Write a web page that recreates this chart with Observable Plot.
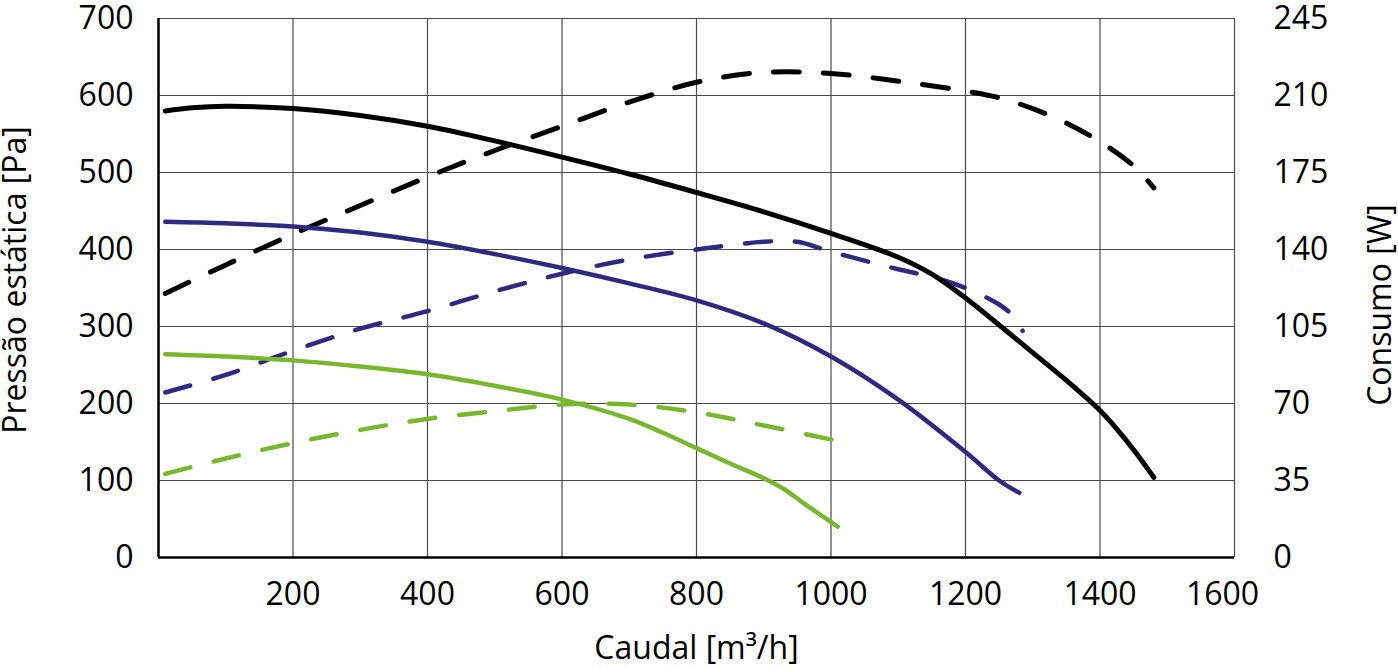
<!DOCTYPE html>
<html><head><meta charset="utf-8">
<script src="https://cdn.jsdelivr.net/npm/d3@7"></script>
<script src="https://cdn.jsdelivr.net/npm/@observablehq/plot@0.6"></script>
<style>body{margin:0;background:#fff}</style>
</head><body><div id="chart"></div>
<script>
// Tick labels
const flowTicks = [200, 400, 600, 800, 1000, 1200, 1400, 1600];
const pressTicks = [0, 100, 200, 300, 400, 500, 600, 700];
const consumoTicks = [0, 35, 70, 105, 140, 175, 210, 245];

// Black curve — static pressure [Pa]
const blackPQ = [10, 50, 100, 200, 300, 400, 500, 600, 700, 800, 900, 1000, 1100, 1150, 1200, 1250, 1300, 1350, 1400, 1420, 1450, 1480];
const blackP  = [580, 584, 586, 583, 574, 560, 541, 520, 498, 474, 449, 421, 390, 368, 337, 302, 266, 230, 191, 172, 140, 104];
// Black curve — consumption [W]
const blackWQ = [10, 100, 200, 300, 400, 500, 600, 700, 800, 900, 1000, 1100, 1200, 1250, 1300, 1350, 1400, 1450, 1480];
const blackW  = [120, 133, 147, 160, 173, 185, 196, 207, 216, 220.5, 220, 216.5, 212, 209, 204, 197.5, 189, 178, 168];

// Blue curve
const bluePQ = [10, 100, 200, 300, 400, 500, 600, 700, 800, 900, 1000, 1100, 1200, 1250, 1280];
const blueP  = [436, 434, 430, 422, 410, 394, 376, 356, 334, 304, 261, 205, 137, 100, 84];
const blueWQ = [10, 100, 200, 300, 400, 500, 600, 700, 800, 900, 950, 1000, 1100, 1150, 1200, 1250, 1270, 1285];
const blueW  = [75, 83, 94, 104, 112, 121, 129, 135.5, 140, 143.5, 143.5, 139, 131, 127.5, 122.5, 115, 110, 103];

// Green curve
const greenPQ = [10, 100, 200, 300, 400, 500, 600, 700, 750, 800, 850, 900, 930, 960, 1010];
const greenP  = [264, 261, 256, 248, 238, 223, 205, 180, 162, 142, 122, 103, 89, 70, 40];
const greenWQ = [10, 100, 200, 300, 400, 500, 600, 700, 800, 900, 1010];
const greenW  = [38, 45, 52, 58, 63, 66.5, 69.5, 69.5, 66, 60, 53];

const pressMax = 700, consumoMax = 245;
const toTable = (qs, vs) => qs.map((q, i) => ({q, v: vs[i]}));

const BLACK = "#000000", BLUE = "#31297f", GREEN = "#78b82e";
const dash = "26,24";
const FS = 32;

const solid = (qs, vs, color, w) => Plot.line(toTable(qs, vs), {x: "q", y: "v", stroke: color, strokeWidth: w, curve: "catmull-rom"});
const dashed = (qs, vs, color, w) => Plot.line(toTable(qs, vs), {x: "q", y: d => d.v * pressMax / consumoMax, stroke: color, strokeWidth: w, strokeDasharray: dash, strokeLinecap: "round", curve: "catmull-rom"});

const chart = Plot.plot({
  width: 1398, height: 667,
  marginLeft: 158, marginRight: 164, marginTop: 18, marginBottom: 110,
  style: {fontFamily: "Open Sans", fontSize: FS + "px", color: "#000", background: "#fff", overflow: "visible"},
  x: {domain: [0, 1600]},
  y: {domain: [0, 700]},
  marks: [
    Plot.ruleY(pressTicks.slice(1), {stroke: "#4a4a4a", strokeWidth: 1.2}),
    Plot.ruleX(flowTicks, {stroke: "#4a4a4a", strokeWidth: 1.2}),
    Plot.ruleX([0], {stroke: "#000", strokeWidth: 2.5}),
    Plot.ruleY([0], {stroke: "#000", strokeWidth: 2.5}),
    dashed(greenWQ, greenW, GREEN, 4.5),
    dashed(blueWQ, blueW, BLUE, 4.5),
    dashed(blackWQ, blackW, BLACK, 5),
    solid(greenPQ, greenP, GREEN, 4.5),
    solid(bluePQ, blueP, BLUE, 4.5),
    solid(blackPQ, blackP, BLACK, 5),
    Plot.axisY(pressTicks, {anchor: "left", tickSize: 0, tickPadding: 25, label: null, fontSize: FS, tickFormat: d => String(d)}),
    Plot.axisY(pressTicks, {anchor: "right", tickSize: 0, tickPadding: 39, label: null, fontSize: FS,
      tickFormat: d => String(consumoTicks[pressTicks.indexOf(d)])}),
    Plot.axisX(flowTicks.slice(0, -1), {anchor: "bottom", tickSize: 0, tickPadding: 25, label: null, fontSize: FS, tickFormat: d => String(d)}),
    Plot.axisX(flowTicks.slice(-1), {anchor: "bottom", tickSize: 0, tickPadding: 25, label: null, fontSize: FS, dx: -12, tickFormat: d => String(d)}),
    Plot.text(["Caudal [m³/h]"], {frameAnchor: "bottom", dy: 91, lineAnchor: "middle", fontSize: FS, fill: "#000"}),
    Plot.text(["Pressão estática [Pa]"], {frameAnchor: "left", dx: -143, dy: -8, rotate: -90, lineAnchor: "middle", textAnchor: "middle", fontSize: FS, fill: "#000"}),
    Plot.text(["Consumo [W]"], {frameAnchor: "right", dx: 146, dy: 17, rotate: -90, lineAnchor: "middle", textAnchor: "middle", fontSize: FS, fill: "#000"})
  ]
});
document.getElementById("chart").appendChild(chart);
</script>
</body></html>
